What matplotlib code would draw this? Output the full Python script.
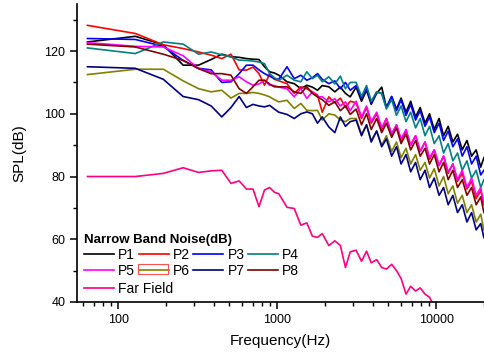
import matplotlib
matplotlib.use("Agg")
import matplotlib.pyplot as plt
from matplotlib.ticker import MultipleLocator, LogLocator, FixedLocator, NullFormatter, FuncFormatter
from matplotlib.patches import Rectangle

plt.rcParams['font.family'] = ['Liberation Sans', 'DejaVu Sans']

# frequency grid (Hz), multiples of 64 Hz
freq = [64, 128, 192, 256, 320, 384, 448, 512, 576, 640, 704, 768, 832, 896, 960,
        1024, 1152, 1280, 1408, 1536, 1664, 1792, 1920, 2112, 2304, 2496, 2688, 2880,
        3136, 3392, 3648, 3904, 4224, 4544, 4864, 5248, 5632, 6016, 6464, 6912, 7424,
        7936, 8512, 9088, 9728, 10432, 11136, 11904, 12736, 13632, 14592, 15616, 16704,
        17856, 19072, 19968]

p1 = [122.9, 124.7, 122.0, 115.5, 115.5, 117.3, 119.0, 118.2, 118.0, 117.6, 117.4, 117.3, 115.0, 113.4, 113.0,
      112.3, 110.2, 109.6, 108.0, 109.1, 108.5, 107.5, 109.0, 108.6, 107.0, 108.5, 106.5, 105.4,
      108.5, 104.0, 107.5, 103.0, 106.5, 108.5, 102.0, 105.5, 101.5, 105.0, 100.5, 104.0, 99.0,
      102.0, 97.0, 100.0, 95.0, 98.5, 93.0, 96.0, 91.0, 93.5, 88.5, 91.5, 86.5, 88.5, 83.0, 86.0]
p2 = [128.2, 125.6, 122.0, 120.8, 119.7, 118.7, 117.6, 119.0, 114.0, 113.9, 114.9, 112.8, 109.1, 112.8, 111.0,
      110.5, 109.6, 106.5, 108.6, 108.0, 107.0, 106.0, 100.5, 105.4, 103.5, 105.0, 102.0, 104.0,
      103.5, 98.5, 102.0, 97.0, 100.0, 95.0, 98.5, 93.5, 96.5, 91.5, 94.5, 90.0, 93.0,
      88.0, 91.0, 85.5, 88.5, 83.5, 86.5, 81.0, 84.0, 78.5, 81.0, 76.0, 78.5, 73.0, 75.5, 71.0]
p3 = [124.0, 123.7, 121.5, 117.0, 114.5, 114.0, 110.0, 110.2, 112.8, 115.5, 115.5, 114.0, 112.8, 112.0, 111.2,
      111.0, 115.0, 111.2, 112.3, 110.7, 111.5, 112.8, 111.0, 109.6, 110.5, 108.0, 110.0, 107.5,
      109.0, 105.0, 108.0, 103.5, 107.0, 106.5, 102.0, 105.5, 101.0, 104.5, 99.5, 103.0, 98.0,
      101.0, 96.0, 99.0, 94.0, 97.0, 91.5, 94.5, 89.5, 92.0, 86.5, 89.5, 84.0, 86.5, 80.5, 82.0]
p4 = [121.0, 119.2, 122.9, 122.2, 119.0, 119.7, 118.8, 118.1, 117.1, 117.0, 116.8, 116.5, 116.0, 112.8, 111.5,
      110.7, 112.3, 110.7, 110.2, 113.4, 111.2, 112.3, 110.2, 111.8, 109.5, 112.0, 108.0, 110.0,
      110.0, 105.5, 109.0, 104.0, 107.0, 106.5, 101.5, 104.5, 99.5, 102.5, 97.5, 100.5, 95.5,
      98.5, 93.0, 96.0, 90.5, 93.0, 87.5, 90.5, 85.0, 87.5, 82.0, 85.0, 79.5, 82.0, 76.5, 79.0]
p5 = [122.7, 121.5, 121.3, 118.5, 114.4, 113.4, 110.7, 110.7, 111.8, 110.2, 109.1, 109.5, 110.7, 109.1, 109.0,
      108.5, 108.0, 105.4, 108.0, 104.9, 107.0, 105.5, 105.4, 103.8, 104.8, 102.5, 103.8, 101.0,
      104.0, 99.0, 102.5, 97.5, 100.5, 95.5, 98.5, 93.5, 96.5, 92.0, 95.0, 90.0, 93.0,
      88.0, 91.0, 86.0, 88.5, 83.5, 86.5, 81.5, 84.0, 79.0, 82.0, 76.5, 79.5, 74.0, 76.5, 71.0]
p6 = [112.5, 114.2, 114.2, 110.5, 108.0, 107.0, 107.5, 105.0, 106.5, 106.5, 106.8, 106.5, 106.0, 105.4, 104.5,
      103.8, 104.3, 101.7, 103.3, 101.1, 101.0, 101.1, 98.0, 100.0, 99.6, 98.0, 97.5, 98.5,
      98.5, 93.5, 96.5, 91.5, 94.5, 90.0, 93.0, 88.0, 91.0, 86.0, 89.0, 84.0, 87.0,
      82.0, 84.5, 79.5, 82.5, 77.0, 80.0, 74.5, 77.0, 71.5, 74.0, 68.5, 71.0, 65.5, 68.0, 63.0]
p7 = [115.0, 114.5, 111.0, 105.5, 104.5, 102.5, 99.0, 102.0, 105.5, 102.0, 103.0, 102.5, 102.2, 102.7, 101.5,
      100.5, 99.8, 98.5, 100.0, 100.6, 100.0, 97.0, 99.0, 95.8, 94.0, 99.0, 96.0, 97.5,
      98.0, 93.0, 96.5, 91.0, 94.5, 89.5, 92.0, 86.5, 89.5, 84.0, 87.0, 81.5, 84.5,
      79.0, 82.0, 76.5, 79.5, 74.0, 76.5, 71.0, 74.0, 68.5, 71.0, 65.5, 68.5, 63.0, 65.0, 60.5]
p8 = [122.2, 121.3, 119.0, 117.0, 114.4, 112.8, 112.8, 112.3, 108.0, 106.5, 108.6, 110.7, 110.7, 109.5, 108.6,
      108.6, 108.6, 107.0, 106.5, 108.6, 106.5, 105.4, 104.5, 102.7, 103.8, 101.0, 102.5, 99.8,
      101.5, 96.5, 100.0, 95.0, 98.5, 94.0, 97.0, 92.5, 95.5, 90.5, 93.5, 88.5, 91.5,
      86.5, 89.0, 84.0, 87.0, 81.5, 84.5, 79.0, 82.0, 76.5, 79.0, 74.0, 76.5, 71.0, 73.5, 68.5]
far = [80.0, 80.0, 81.0, 82.8, 81.3, 81.8, 82.0, 77.8, 78.6, 76.0, 76.0, 70.4, 75.7, 76.5, 75.0,
       74.5, 70.2, 69.8, 64.5, 65.2, 61.0, 60.6, 61.8, 58.0, 59.5, 58.0, 51.0, 56.0,
       56.5, 53.0, 56.2, 52.5, 53.5, 51.0, 50.5, 52.0, 50.0, 47.5, 42.5, 45.0, 43.5,
       44.5, 42.5, 41.5, 38.5]

names = ["P1", "P2", "P3", "P4", "P5", "P6", "P7", "P8", "Far Field"]
colors = ["black", "#ff0000", "#0000ff", "#008080", "#ff00ff", "#808000",
          "#000080", "#800000", "#ff0080"]
data = [p1, p2, p3, p4, p5, p6, p7, p8, far]

fig = plt.figure(figsize=(4.84, 3.52), dpi=100)
ax = fig.add_axes([77/484, 50/352, 407/484, 298/352])

lines = {}
for name, vals, col in zip(names, data, colors):
    ln, = ax.plot(freq[:len(vals)], vals, color=col, lw=1.2, label=name)
    lines[name] = ln

ax.set_xscale("log")
ax.set_xlim(55, 20000)
ax.set_ylim(40, 135)

ax.xaxis.set_major_locator(FixedLocator([100, 1000, 10000]))
ax.xaxis.set_major_formatter(FuncFormatter(lambda v, p: "%d" % v))
ax.xaxis.set_minor_locator(LogLocator(base=10, subs=range(2, 10), numticks=20))
ax.xaxis.set_minor_formatter(NullFormatter())
ax.yaxis.set_major_locator(MultipleLocator(20))
ax.yaxis.set_minor_locator(MultipleLocator(10))

for s in ["top", "right"]:
    ax.spines[s].set_visible(False)
for s in ["left", "bottom"]:
    ax.spines[s].set_linewidth(1.2)
ax.tick_params(which="major", direction="out", length=5, width=1.1, labelsize=9)
ax.tick_params(which="minor", direction="out", length=3, width=1.0)

ax.set_xlabel("Frequency(Hz)", fontsize=11, labelpad=6)
ax.set_ylabel("SPL(dB)", fontsize=11, labelpad=13)

# legend: 2 rows of 4 under a bold title, Far Field on its own row
order = ["P1", "P5", "P2", "P6", "P3", "P7", "P4", "P8"]
leg_kw = dict(frameon=False, fontsize=10, handlelength=2.15, handletextpad=0.3,
              columnspacing=0.25, labelspacing=0.15, borderpad=0.0, borderaxespad=0.0)
leg = ax.legend([lines[n] for n in order], order, ncol=4, loc="upper left",
                bbox_to_anchor=(0.018, 0.229),
                title="Narrow Band Noise(dB)", title_fontproperties={"weight": "bold", "size": 9.5},
                alignment="left", **leg_kw)
ax.add_artist(leg)
ax.legend([lines["Far Field"]], ["Far Field"], loc="upper left",
          bbox_to_anchor=(0.018, 0.068), **leg_kw)

# selection box around P6 legend handle, as in the source figure
fig.patches.append(Rectangle((138/484, 1 - 274/352), 30/484, 10/352, transform=fig.transFigure,
                             fill=False, edgecolor="#ff5050", lw=0.8))

fig.savefig("out.png", dpi=100)
